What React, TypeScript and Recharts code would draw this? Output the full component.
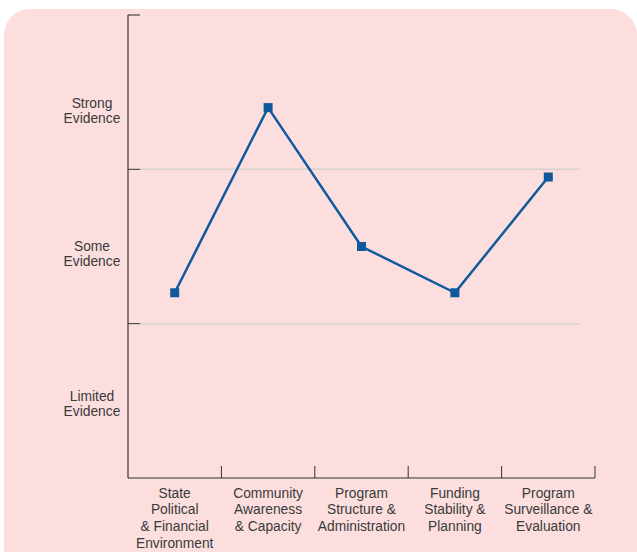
import { Line, LineChart, ReferenceLine, XAxis, YAxis } from 'recharts'

const categories = [
  'State\nPolitical\n& Financial\nEnvironment',
  'Community\nAwareness\n& Capacity',
  'Program\nStructure &\nAdministration',
  'Funding\nStability &\nPlanning',
  'Program\nSurveillance &\nEvaluation',
]

const scores = [1.2, 2.4, 1.5, 1.2, 1.95]

const levelLabels = ['Limited\nEvidence', 'Some\nEvidence', 'Strong\nEvidence']
const levelTicks = [0.48, 1.455, 2.38]
const bandEdges = [1, 2]

const data = categories.map((name, i) => ({ name, score: scores[i] }))

const TEXT = '#3a3a3a'
const AXIS = '#333333'
const LINE = '#0e5a9c'
const FONT = '"Liberation Sans", Arial, sans-serif'

function SquareDot(props: any) {
  const { cx, cy } = props
  if (cx == null || cy == null) return null
  return <rect x={cx - 4.5} y={cy - 4.5} width={9} height={9} fill={LINE} />
}

function LevelTick(props: any) {
  const { y, index } = props
  const lines = levelLabels[index].split('\n')
  return (
    <text textAnchor="middle" fill={TEXT} fontSize={13.8} fontFamily={FONT}>
      {lines.map((l, i) => (
        <tspan key={i} x={92} y={y - 2.6 + i * 15}>
          {l}
        </tspan>
      ))}
    </text>
  )
}

function CategoryTick(props: any) {
  const { x, y, payload } = props
  const lines = String(payload.value).split('\n')
  return (
    <text textAnchor="middle" fill={TEXT} fontSize={13.8} fontFamily={FONT}>
      {lines.map((l, i) => (
        <tspan key={i} x={x} y={y + 11.5 + i * 16.7}>
          {l}
        </tspan>
      ))}
    </text>
  )
}

function BandLine(props: any) {
  const { x1, x2, y1 } = props
  const left = Math.min(x1, x2)
  const right = Math.max(x1, x2)
  return (
    <g>
      <line x1={left + 12} x2={right - 15} y1={y1} y2={y1} stroke="#d8d2d2" strokeWidth={1.5} />
      <line x1={left} x2={left + 12} y1={y1} y2={y1} stroke={AXIS} strokeWidth={1} />
    </g>
  )
}

function TopTick(props: any) {
  const { x1, x2, y1 } = props
  const left = Math.min(x1, x2)
  return <line x1={left} x2={left + 12} y1={y1} y2={y1} stroke="#666" strokeWidth={1.5} />
}

function BoundaryTick(props: any) {
  const { x1, y1, y2 } = props
  const bottom = Math.max(y1, y2)
  return <line x1={x1} x2={x1} y1={bottom - 12} y2={bottom} stroke={AXIS} strokeWidth={1} />
}

export default function App() {
  return (
    <div style={{ position: 'absolute', left: 0, top: 0, width: 637, height: 552, overflow: 'hidden' }}>
      <div
        style={{
          position: 'absolute',
          left: 4,
          top: 9,
          width: 633,
          height: 580,
          background: '#fcdede',
          borderRadius: 26,
        }}
      />
      <div style={{ position: 'absolute', left: 0, top: 0 }}>
        <LineChart width={637} height={552} data={data} margin={{ top: 15, right: 42, bottom: 0, left: 8 }}>
          <XAxis
            dataKey="name"
            scale="band"
            interval={0}
            height={74}
            tickLine={false}
            axisLine={{ stroke: AXIS, strokeWidth: 1.2 }}
            tick={<CategoryTick />}
          />
          <YAxis
            type="number"
            domain={[0, 3]}
            ticks={levelTicks}
            width={120}
            tickLine={false}
            axisLine={{ stroke: AXIS, strokeWidth: 1.2 }}
            tick={<LevelTick />}
          />
          {bandEdges.map((v) => (
            <ReferenceLine key={v} y={v} shape={<BandLine />} />
          ))}
          <ReferenceLine y={3} shape={<TopTick />} />
          {categories.map((c) => (
            <ReferenceLine key={c} x={c} position="end" shape={<BoundaryTick />} />
          ))}
          <Line
            type="linear"
            dataKey="score"
            stroke={LINE}
            strokeWidth={2.5}
            dot={<SquareDot />}
            activeDot={false}
            isAnimationActive={false}
          />
        </LineChart>
      </div>
    </div>
  )
}
